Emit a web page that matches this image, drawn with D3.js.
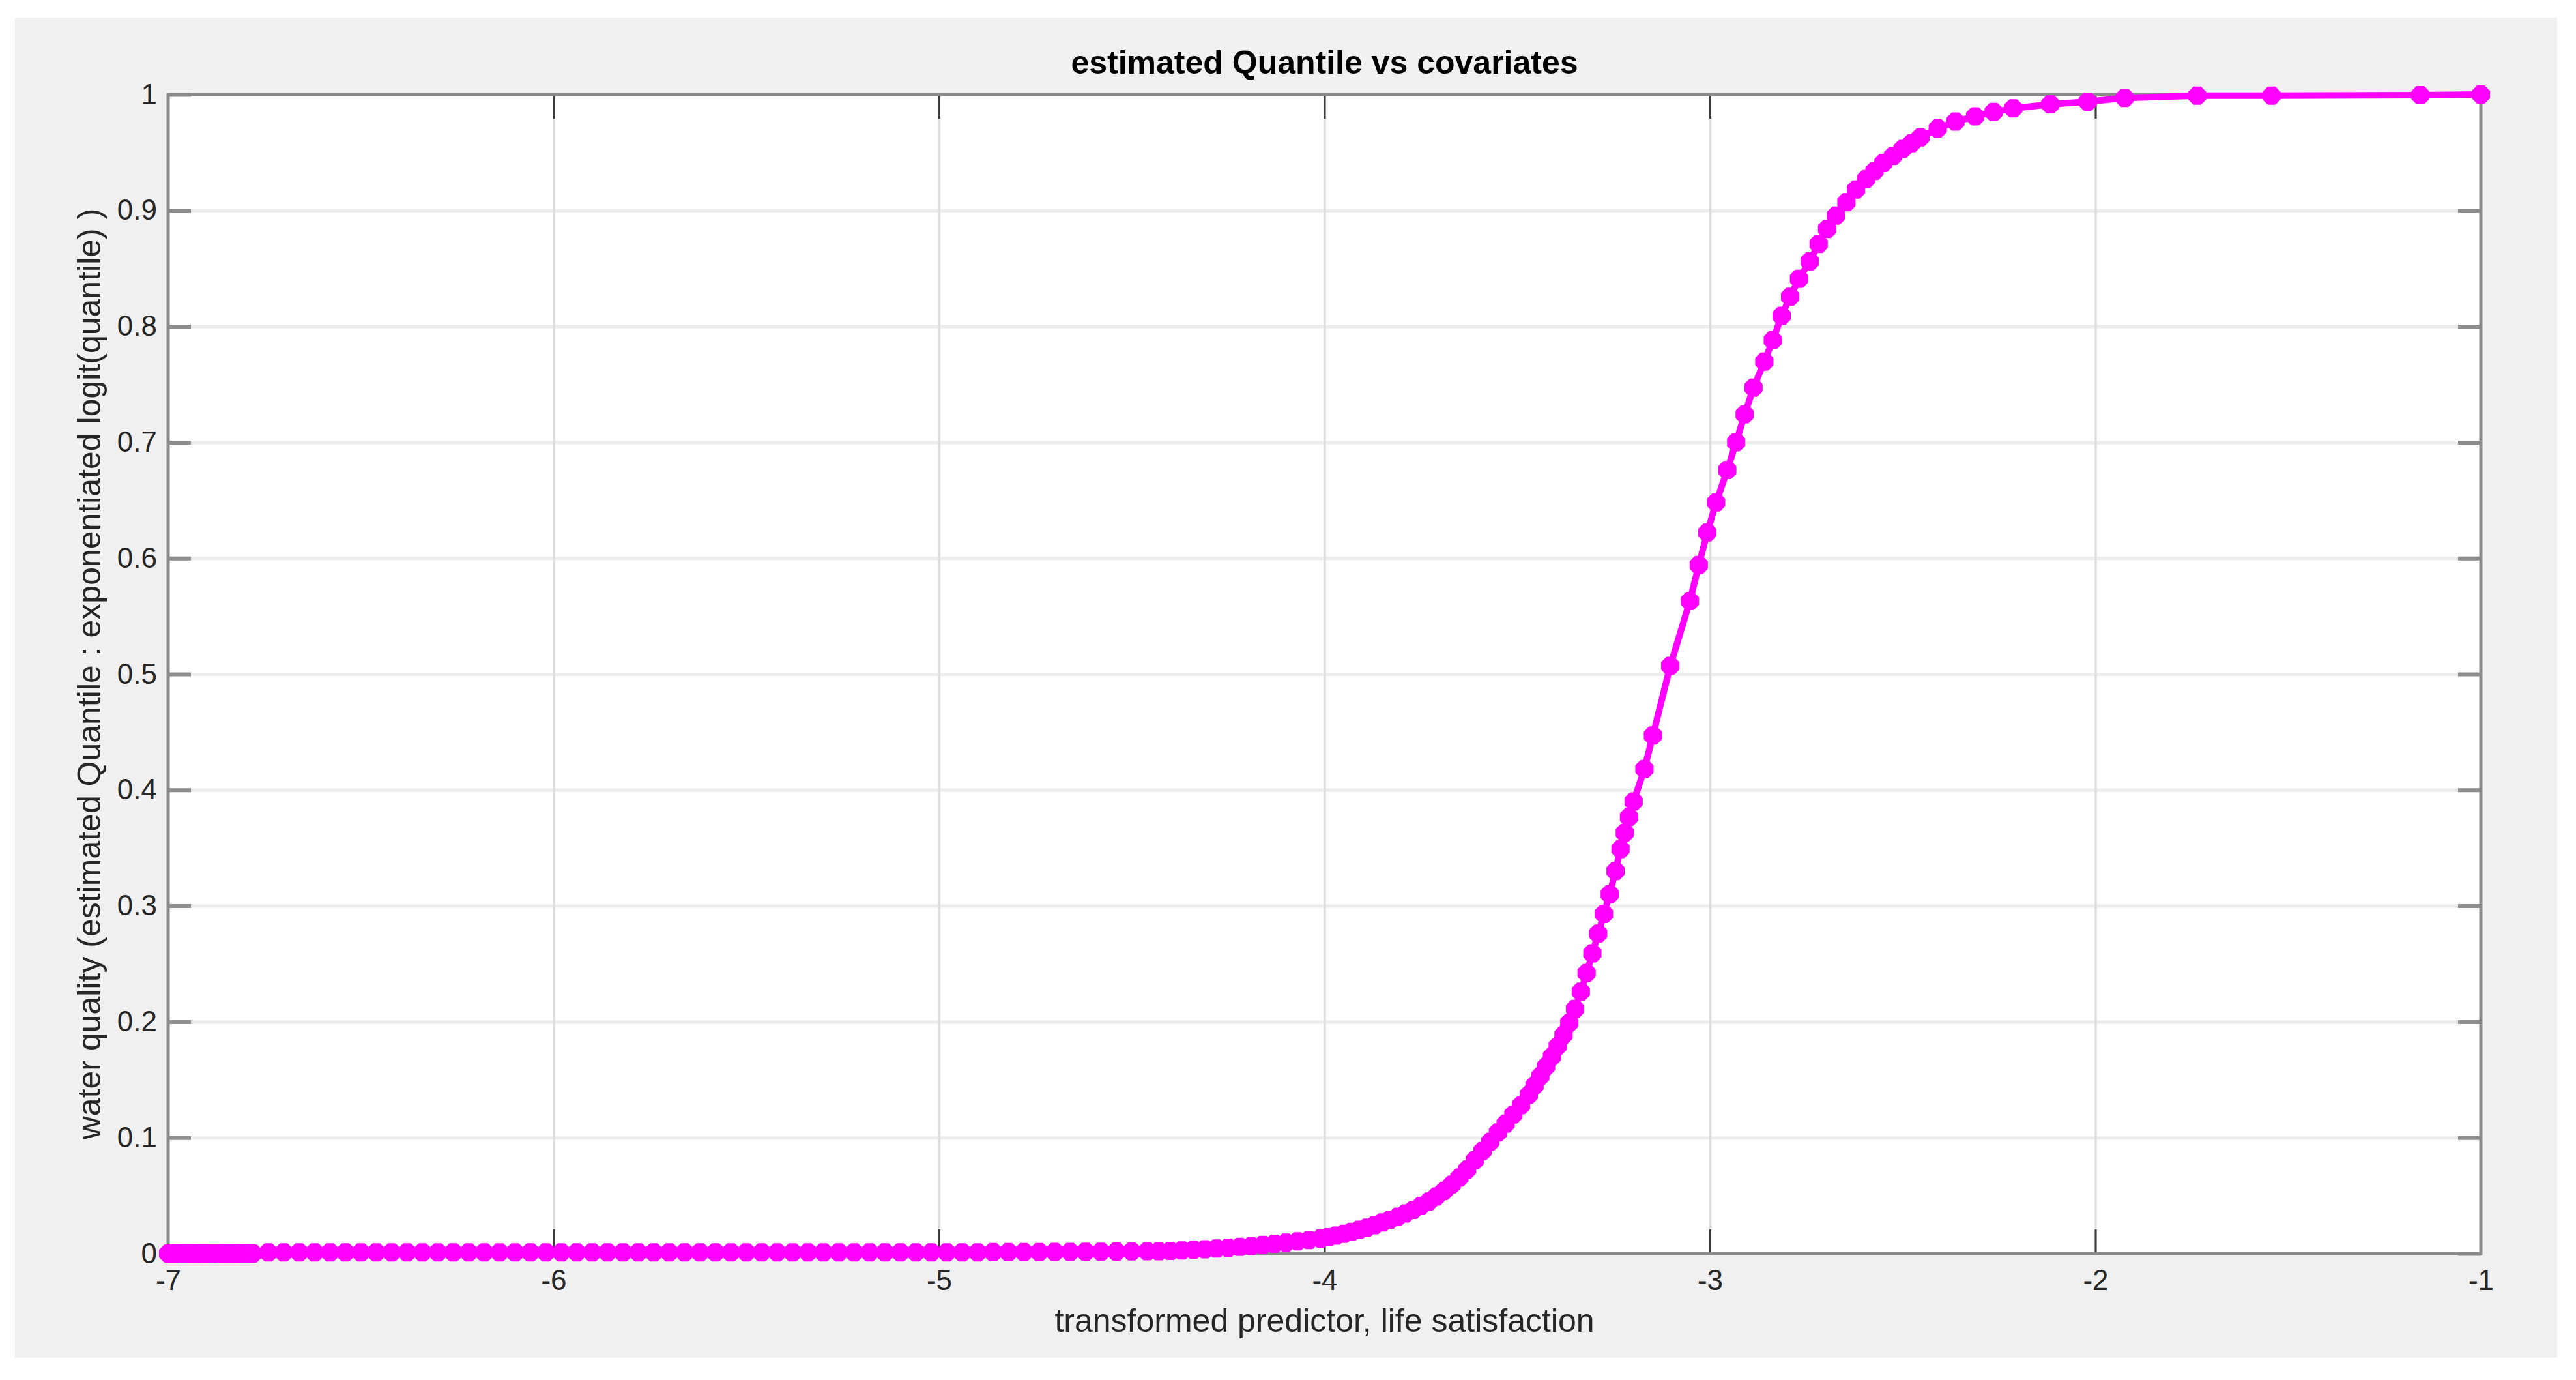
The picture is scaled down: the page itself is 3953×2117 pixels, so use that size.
<!DOCTYPE html>
<html>
<head>
<meta charset="utf-8">
<script src="https://cdn.jsdelivr.net/npm/d3@7"></script>
<style>
  body { margin: 0; background: #ffffff; }
  text { font-family: "Liberation Sans", Arial, Helvetica, sans-serif; }
</style>
</head>
<body>
<div id="chart"></div>
<script>
// data, [x, y]
// flat part near zero, the markers form one solid band
const lowerTail = [
  [-7.00,0.0000],[-6.98,0.0000],[-6.96,0.0000],[-6.94,0.0000],[-6.92,0.0000],[-6.90,0.0000],
  [-6.88,0.0000],[-6.86,0.0000],[-6.84,0.0000],[-6.82,0.0000],[-6.80,0.0000],[-6.78,0.0000],
  [-6.74,0.0010],[-6.70,0.0010],[-6.66,0.0010],[-6.62,0.0010],[-6.58,0.0010],[-6.54,0.0010],
  [-6.50,0.0010],[-6.46,0.0010],[-6.42,0.0010],[-6.38,0.0010],[-6.34,0.0010],[-6.30,0.0010],
  [-6.26,0.0010],[-6.22,0.0010],[-6.18,0.0010],[-6.14,0.0010],[-6.10,0.0010],[-6.06,0.0010],
  [-6.02,0.0010],[-5.98,0.0010],[-5.94,0.0010],[-5.90,0.0010],[-5.86,0.0010],[-5.82,0.0010],
  [-5.78,0.0010],[-5.74,0.0010],[-5.70,0.0010],[-5.66,0.0010],[-5.62,0.0010],[-5.58,0.0010],
  [-5.54,0.0010],[-5.50,0.0010],[-5.46,0.0010],[-5.42,0.0010],[-5.38,0.0010],[-5.34,0.0010],
  [-5.30,0.0010],[-5.26,0.0010],[-5.22,0.0010],[-5.18,0.0010],[-5.14,0.0010],[-5.10,0.0010],
  [-5.06,0.0010],[-5.02,0.0010],[-4.98,0.0010],[-4.94,0.0010],[-4.90,0.0010],[-4.86,0.0012],
  [-4.82,0.0012],[-4.78,0.0013],[-4.74,0.0013],[-4.70,0.0014],[-4.66,0.0014],[-4.62,0.0015],
  [-4.58,0.0016],[-4.54,0.0017],[-4.50,0.0018],[-4.46,0.0019],[-4.43,0.0020]
];

const toe = [
  [-4.40,0.0022],[-4.37,0.0027],[-4.34,0.0032],[-4.31,0.0037],[-4.28,0.0043],[-4.25,0.0050],
  [-4.22,0.0057],[-4.19,0.0065],[-4.16,0.0074],[-4.13,0.0084],[-4.10,0.0094],[-4.07,0.0105],
  [-4.04,0.0117],[-4.01,0.0130]
];

const riseSegment = [
  [-3.99,0.0140],[-3.97,0.0155],[-3.95,0.0170],[-3.93,0.0187],[-3.91,0.0205],[-3.89,0.0224],
  [-3.87,0.0245],[-3.85,0.0268],[-3.83,0.0292],[-3.81,0.0318],[-3.79,0.0346],[-3.77,0.0377],
  [-3.75,0.0410],[-3.73,0.0448],[-3.71,0.0492],[-3.69,0.0540],[-3.67,0.0595],[-3.65,0.0655],
  [-3.63,0.0725],[-3.61,0.0805],[-3.59,0.0885],[-3.57,0.0965],[-3.55,0.1045],[-3.53,0.1120],
  [-3.51,0.1200],[-3.49,0.1280],[-3.47,0.1370],[-3.455,0.1450],[-3.44,0.1530],[-3.425,0.1615],
  [-3.41,0.1700],[-3.395,0.1790],[-3.38,0.1885],[-3.365,0.1990],[-3.35,0.2110],[-3.335,0.2260],
  [-3.32,0.2420],[-3.305,0.2590],[-3.29,0.2760],[-3.275,0.2930],[-3.26,0.3100],[-3.245,0.3300],
  [-3.232,0.3490],[-3.221,0.3630]
];

const upperSegment = [
  [-3.210,0.3765],[-3.198,0.3900],[-3.170,0.4180],[-3.148,0.4470],[-3.103,0.5070],[-3.052,0.5630],
  [-3.029,0.5940],[-3.007,0.6220],[-2.984,0.6480],[-2.955,0.6760],[-2.932,0.7000],[-2.910,0.7240],
  [-2.887,0.7470],[-2.859,0.7695],[-2.837,0.7880],[-2.814,0.8090],[-2.792,0.8255],[-2.769,0.8410],
  [-2.741,0.8560],[-2.718,0.8710],[-2.696,0.8840],[-2.673,0.8955],[-2.646,0.9070],[-2.621,0.9180],
  [-2.595,0.9270],[-2.573,0.9340],[-2.550,0.9410],[-2.525,0.9470],[-2.500,0.9530],[-2.477,0.9580],
  [-2.454,0.9630],[-2.409,0.9708],[-2.363,0.9766],[-2.312,0.9812],[-2.264,0.9850],[-2.213,0.9880],
  [-2.117,0.9916],[-2.020,0.9938],[-1.924,0.9970],[-1.736,0.9990],[-1.543,0.9990],[-1.157,0.9995],
  [-1.000,1.0000]
];

const xTicks = [-7, -6, -5, -4, -3, -2, -1];
const xTickLabels = ["-7", "-6", "-5", "-4", "-3", "-2", "-1"];
const yTicks = [0, 0.1, 0.2, 0.3, 0.4, 0.5, 0.6, 0.7, 0.8, 0.9, 1];
const yTickLabels = ["0", "0.1", "0.2", "0.3", "0.4", "0.5", "0.6", "0.7", "0.8", "0.9", "1"];

const titleText = "estimated Quantile vs covariates";
const xLabelText = "transformed predictor, life satisfaction";
const yLabelText = "water quality (estimated Quantile : exponentiated logit(quantile) )";

const data = lowerTail.concat(toe, riseSegment, upperSegment);

let W = 3953, H = 2117;
let margin = { top: 145, left: 258, right: 146, bottom: 194 },
  width = W - margin.left - margin.right,
  height = H - margin.top - margin.bottom;

let svg = d3.select('#chart')
  .append('svg')
  .attr('width', W)
  .attr('height', H)
  .style('display', 'block');

// grey figure panel
svg.append('rect')
  .attr('x', 23).attr('y', 27)
  .attr('width', 3924 - 23).attr('height', 2083 - 27)
  .attr('fill', '#f0f0f0');

let g = svg.append('g')
  .attr('transform', `translate(${margin.left},${margin.top})`);

const x = d3.scaleLinear().domain([-7, -1]).range([0, width]);
const y = d3.scaleLinear().domain([0, 1]).range([height, 0]);

// white axes area
g.append('rect')
  .attr('width', width).attr('height', height)
  .attr('fill', '#ffffff');

// grid
g.append('g')
  .attr('class', 'ygrid')
  .call(d3.axisLeft(y).tickValues(yTicks.slice(1, -1)).tickSize(-width).tickFormat(''))
  .call(s => s.select('.domain').remove())
  .selectAll('line')
  .attr('stroke', '#ececec')
  .attr('stroke-width', 5);

g.append('g')
  .attr('class', 'xgrid')
  .attr('transform', `translate(0,${height})`)
  .call(d3.axisBottom(x).tickValues(xTicks.slice(1, -1)).tickSize(-height).tickFormat(''))
  .call(s => s.select('.domain').remove())
  .selectAll('line')
  .attr('stroke', '#dedede')
  .attr('stroke-width', 3.5);

// x axis bottom + top
let xAxisB = g.append('g')
  .attr('transform', `translate(0,${height})`)
  .call(d3.axisBottom(x).tickValues(xTicks).tickSizeInner(-37).tickSizeOuter(0).tickPadding(25)
    .tickFormat((d, i) => xTickLabels[i]));
let xAxisT = g.append('g')
  .call(d3.axisTop(x).tickValues(xTicks).tickSizeInner(-37).tickSizeOuter(0).tickFormat(''));

// y axis left + right
let yAxisL = g.append('g')
  .call(d3.axisLeft(y).tickValues(yTicks).tickSizeInner(-35).tickSizeOuter(0).tickPadding(17)
    .tickFormat((d, i) => yTickLabels[i]));
let yAxisR = g.append('g')
  .attr('transform', `translate(${width},0)`)
  .call(d3.axisRight(y).tickValues(yTicks).tickSizeInner(-35).tickSizeOuter(0).tickFormat(''));

[xAxisB, xAxisT, yAxisL, yAxisR].forEach(a => a.select('.domain').remove());
[xAxisB, xAxisT].forEach(a => a.selectAll('line').attr('stroke', '#3c3c3c').attr('stroke-width', 3));
[yAxisL, yAxisR].forEach(a => a.selectAll('line').attr('stroke', '#8c8c8c').attr('stroke-width', 6));

g.selectAll('.tick text')
  .attr('font-size', 44)
  .attr('fill', '#262626')
  .style('font-family', '"Liberation Sans", Arial, Helvetica, sans-serif');

// axes box
g.append('rect')
  .attr('width', width).attr('height', height)
  .attr('fill', 'none')
  .attr('stroke', '#8a8a8a')
  .attr('stroke-width', 5);

// curve
const line = d3.line()
  .x(d => x(d[0]))
  .y(d => y(d[1]));

g.append('path')
  .datum(data)
  .attr('d', line)
  .attr('fill', 'none')
  .attr('stroke', '#ff00ff')
  .attr('stroke-width', 10)
  .attr('stroke-linejoin', 'round');

// matlab-like '*' marker : + and x
const starSymbol = {
  draw(context, size) {
    const r = Math.sqrt(size) / 2;
    const d = r * Math.SQRT1_2;
    context.moveTo(-r, 0); context.lineTo(r, 0);
    context.moveTo(0, -r); context.lineTo(0, r);
    context.moveTo(-d, -d); context.lineTo(d, d);
    context.moveTo(-d, d); context.lineTo(d, -d);
  }
};

g.selectAll('.marker')
  .data(data)
  .join('path')
  .attr('class', 'marker')
  .attr('transform', d => `translate(${x(d[0])},${y(d[1])})`)
  .attr('d', d3.symbol(starSymbol, 784))
  .attr('fill', 'none')
  .attr('stroke', '#ff00ff')
  .attr('stroke-width', 11);

// texts
svg.append('text')
  .attr('x', margin.left + width / 2)
  .attr('y', 113)
  .attr('text-anchor', 'middle')
  .attr('font-size', 50)
  .attr('font-weight', 'bold')
  .attr('fill', '#000')
  .text(titleText);

svg.append('text')
  .attr('x', margin.left + width / 2)
  .attr('y', 2043)
  .attr('text-anchor', 'middle')
  .attr('font-size', 50)
  .attr('fill', '#262626')
  .text(xLabelText);

svg.append('text')
  .attr('transform', `translate(154,${margin.top + height / 2}) rotate(-90)`)
  .attr('text-anchor', 'middle')
  .attr('font-size', 50)
  .attr('fill', '#262626')
  .text(yLabelText);
</script>
</body>
</html>
